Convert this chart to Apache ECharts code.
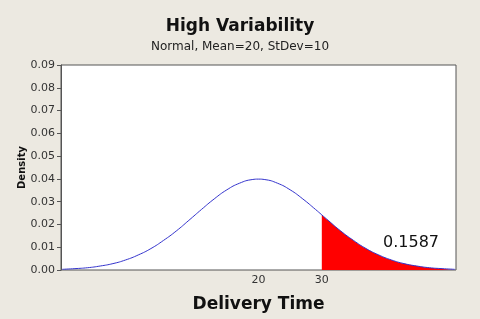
<!DOCTYPE html>
<html><head><meta charset="utf-8">
<script src="https://cdn.jsdelivr.net/npm/echarts@6/dist/echarts.min.js"></script>
<style>html,body{margin:0;padding:0;background:#ECE9E1;}#c{width:480px;height:319px;}</style>
</head><body><div id="c"></div>
<script>
var xValues = [-11,-9,-7,-5,-3,-1,1,3,5,7,9,11,13,15,17,19,20,21,23,25,27,29,30,31,33,35,37,39,41,43,45,47,49,51];
var density = [0.0003,0.0006,0.0010,0.00175,0.0028,0.0044,0.0066,0.0094,0.0130,0.0171,0.0218,0.0266,0.0312,0.0352,0.0381,0.0397,0.0399,0.0397,0.0381,0.0352,0.0312,0.0266,0.0242,0.0218,0.0171,0.0130,0.0094,0.0066,0.0044,0.0028,0.00175,0.0010,0.0006,0.0003];
var tailStart = 30;
var xTickLabels = [20, 30];
var yTicks = ['0.00','0.01','0.02','0.03','0.04','0.05','0.06','0.07','0.08','0.09'];
var areaLabel = '0.1587';

var curve = xValues.map(function(x,i){return [x, density[i]];});
var tail = curve.filter(function(p){return p[0] >= tailStart;});
var font = 'Tahoma, "DejaVu Sans", sans-serif';
var chart = echarts.init(document.getElementById('c'));
chart.setOption({
  backgroundColor: '#ECE9E1',
  animation: false,
  title: {
    text: 'High Variability',
    subtext: 'Normal, Mean=20, StDev=10',
    left: 'center', top: 13, itemGap: 6,
    textStyle: {fontFamily: font, fontWeight: 'bold', fontSize: 17, color: '#111'},
    subtextStyle: {fontFamily: font, fontSize: 12, color: '#222'}
  },
  grid: {left: 61, right: 24, top: 65, bottom: 49, show: true, backgroundColor: '#fff', borderColor: '#555', borderWidth: 1},
  xAxis: {
    type: 'value', min: -11.2, max: 51.2,
    name: 'Delivery Time', nameLocation: 'middle', nameGap: 26,
    nameTextStyle: {fontFamily: font, fontWeight: 'bold', fontSize: 17, color: '#111'},
    axisLine: {show: false, onZero: false}, axisTick: {show: false}, splitLine: {show: false},
    axisLabel: {customValues: xTickLabels, fontFamily: font, fontSize: 11, color: '#333', margin: 5}
  },
  yAxis: {
    type: 'value', min: 0, max: 0.09, interval: 0.01,
    name: 'Density', nameLocation: 'middle', nameGap: 34, nameRotate: 90, nameMoveOverlap: false,
    nameTextStyle: {fontFamily: font, fontWeight: 'bold', fontSize: 10, color: '#111'},
    axisLine: {show: true, onZero: false, lineStyle: {color: '#555'}},
    axisTick: {show: true, inside: false, length: 4, lineStyle: {color: '#555'}},
    splitLine: {show: false},
    axisLabel: {fontFamily: font, fontSize: 11, color: '#333', margin: 6,
      formatter: function(v){ return yTicks[Math.round(v*100)]; }}
  },
  series: [
    {type: 'line', data: tail, smooth: true, symbol: 'none', z: 2,
     lineStyle: {width: 0}, areaStyle: {color: '#FF0000', opacity: 1}},
    {type: 'line', data: curve, smooth: true, symbol: 'none', z: 3,
     lineStyle: {color: '#3333CC', width: 1}}
  ],
  graphic: [{type: 'text', left: 383, top: 235, style: {text: areaLabel, fontFamily: font, fontSize: 16, fill: '#111'}}]
});
</script></body></html>
